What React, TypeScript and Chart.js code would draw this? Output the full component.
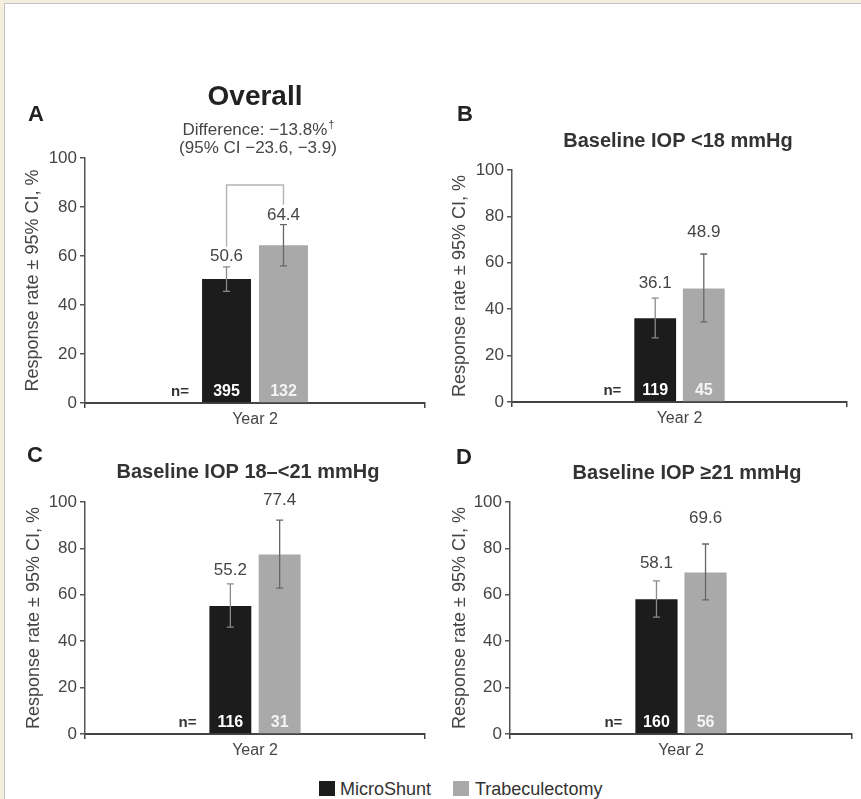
import React, { useEffect, useRef } from "react";
import { Chart, registerables } from "chart.js";

Chart.register(...registerables);

// ---------- data ----------
const categories = ["Year 2"];
const seriesNames = ["MicroShunt", "Trabeculectomy"];
const panelLetters = ["A", "B", "C", "D"];
const panelTitles = ["Overall", "Baseline IOP <18 mmHg", "Baseline IOP 18–<21 mmHg", "Baseline IOP ≥21 mmHg"];
const microShuntRate = [50.6, 36.1, 55.2, 58.1];
const microShuntLow = [45.6, 27.6, 46.1, 50.4];
const microShuntHigh = [55.6, 44.8, 64.7, 66.0];
const trabRate = [64.4, 48.9, 77.4, 69.6];
const trabLow = [56.0, 34.5, 62.9, 57.8];
const trabHigh = [72.8, 63.8, 92.2, 81.9];
const microShuntN = [395, 119, 116, 160];
const trabN = [132, 45, 31, 56];
const yTicks = [0, 20, 40, 60, 80, 100];
const bracketLevel = 89;
const differenceMain = "Difference: −13.8%";
const differenceMark = "†";
const differenceCI = "(95% CI −23.6, −3.9)";
const yAxisTitle = "Response rate ± 95% CI, %";
const nPrefix = "n=";

// ---------- layout / style ----------
const FONT = "'Liberation Sans', Arial, Helvetica, sans-serif";
const COLORS = ["#1c1c1c", "#a9a9a9"];
const ERR_COLORS = ["#8a8a8a", "#666666"];
const TEXT = "#454545";

type Layout = {
  left: number; top: number; width: number; height: number;
  area: { l: number; r: number; t: number; b: number };
  yTitleX: number; catPct: number; barPct: number; labelGap: number[];
  letter: [number, number]; title: [number, number]; titleSize: number;
};

const layouts: Layout[] = [
  { left: 0, top: 60, width: 430, height: 370, area: { l: 85, r: 425, t: 158, b: 403 }, yTitleX: 33, catPct: 0.335, barPct: 0.86, labelGap: [10, 9], letter: [36, 115], title: [255, 97], titleSize: 28 },
  { left: 430, top: 60, width: 431, height: 370, area: { l: 512, r: 847, t: 170, b: 402 }, yTitleX: 460, catPct: 0.29, barPct: 0.86, labelGap: [15, 22], letter: [465, 115], title: [678, 141], titleSize: 20 },
  { left: 0, top: 430, width: 430, height: 330, area: { l: 85, r: 425, t: 502, b: 734 }, yTitleX: 34, catPct: 0.29, barPct: 0.85, labelGap: [14, 20], letter: [35, 456], title: [248, 472], titleSize: 20 },
  { left: 430, top: 430, width: 431, height: 330, area: { l: 510, r: 852, t: 502, b: 734 }, yTitleX: 460, catPct: 0.287, barPct: 0.86, labelGap: [18, 26], letter: [464, 458], title: [687, 473], titleSize: 20 },
];

function Panel({ idx }: { idx: number }) {
  const ref = useRef<HTMLCanvasElement | null>(null);
  const L = layouts[idx];
  useEffect(() => {
    const canvas = ref.current;
    if (!canvas) return;
    const areaLeft = L.area.l - L.left;
    const areaRight = L.area.r - L.left;
    const areaTop = L.area.t - L.top;
    const areaBottom = L.area.b - L.top;
    const rates = [microShuntRate[idx], trabRate[idx]];
    const lows = [microShuntLow[idx], trabLow[idx]];
    const highs = [microShuntHigh[idx], trabHigh[idx]];
    const ns = [microShuntN[idx], trabN[idx]];
    const titleFontSize = 18;
    const titleLH = titleFontSize * 1.2;

    const overlay = {
      id: "overlay" + idx,
      afterDraw(chart: any) {
        const ctx: CanvasRenderingContext2D = chart.ctx;
        const ys = chart.scales.y;
        const bottom = chart.chartArea.bottom;
        const bars = [0, 1].map((d) => chart.getDatasetMeta(d).data[0] as any);
        ctx.save();
        const labelY: number[] = [];
        for (let d = 0; d < 2; d++) {
          const bar = bars[d];
          const x = bar.x;
          const yHi = ys.getPixelForValue(highs[d]);
          const yLo = ys.getPixelForValue(lows[d]);
          ctx.strokeStyle = ERR_COLORS[d];
          ctx.lineWidth = 1.3;
          ctx.beginPath();
          ctx.moveTo(x, yLo);
          ctx.lineTo(x, yHi);
          ctx.moveTo(x - 3.5, yHi);
          ctx.lineTo(x + 3.5, yHi);
          ctx.moveTo(x - 3.5, yLo);
          ctx.lineTo(x + 3.5, yLo);
          ctx.stroke();
          // value label
          ctx.fillStyle = TEXT;
          ctx.font = `17px ${FONT}`;
          ctx.textAlign = "center";
          ctx.textBaseline = "middle";
          const ly = yHi - L.labelGap[d];
          labelY.push(ly);
          ctx.fillText(rates[d].toFixed(1), x, ly);
          // n inside bar
          ctx.fillStyle = d === 0 ? "#ffffff" : "#f4f4f4";
          ctx.font = `bold 16px ${FONT}`;
          ctx.fillText(String(ns[d]), x, bottom - 11);
        }
        // n=
        ctx.fillStyle = "#333";
        ctx.font = `bold 15px ${FONT}`;
        ctx.textAlign = "right";
        ctx.fillText(nPrefix, bars[0].x - bars[0].width / 2 - 13, bottom - 11);

        // bracket (overall panel)
        if (idx === 0) {
          const yTop = ys.getPixelForValue(bracketLevel);
          ctx.strokeStyle = "#b4b4b4";
          ctx.lineWidth = 1.4;
          ctx.beginPath();
          ctx.moveTo(bars[0].x, labelY[0] - 10);
          ctx.lineTo(bars[0].x, yTop);
          ctx.lineTo(bars[1].x, yTop);
          ctx.lineTo(bars[1].x, labelY[1] - 11);
          ctx.stroke();
        }

        // panel letter
        ctx.fillStyle = "#222";
        ctx.textAlign = "center";
        ctx.textBaseline = "middle";
        ctx.font = `bold 22px ${FONT}`;
        ctx.fillText(panelLetters[idx], L.letter[0] - L.left, L.letter[1] - L.top);
        // title
        ctx.fillStyle = idx === 0 ? "#222" : "#333";
        ctx.font = `bold ${L.titleSize}px ${FONT}`;
        ctx.fillText(panelTitles[idx], L.title[0] - L.left, L.title[1] - L.top);

        if (idx === 0) {
          ctx.fillStyle = TEXT;
          ctx.font = `17px ${FONT}`;
          const w1 = ctx.measureText(differenceMain).width;
          ctx.font = `11px ${FONT}`;
          const w2 = ctx.measureText(differenceMark).width;
          const cx = 258 - L.left;
          const start = cx - (w1 + w2) / 2;
          ctx.textAlign = "left";
          ctx.font = `17px ${FONT}`;
          ctx.fillText(differenceMain, start, 130 - L.top);
          ctx.font = `11px ${FONT}`;
          ctx.fillText(differenceMark, start + w1 + 1, 125 - L.top);
          ctx.textAlign = "center";
          ctx.font = `17px ${FONT}`;
          ctx.fillText(differenceCI, cx, 148 - L.top);
        }
        ctx.restore();
      },
    };

    const chart = new Chart(canvas, {
      type: "bar",
      data: {
        labels: categories,
        datasets: [0, 1].map((d) => ({
          label: seriesNames[d],
          data: [d === 0 ? microShuntRate[idx] : trabRate[idx]],
          backgroundColor: COLORS[d],
          borderWidth: 0,
          categoryPercentage: L.catPct,
          barPercentage: L.barPct,
        })),
      },
      options: {
        responsive: false,
        animation: false,
        events: [],
        layout: { padding: { left: 0, top: areaTop, right: L.width - areaRight, bottom: 0 } },
        plugins: {
          legend: { display: false },
          tooltip: { enabled: false },
          title: { display: false },
        },
        scales: {
          x: {
            grid: { display: true, drawOnChartArea: false, drawTicks: true, tickLength: 5, color: "#444", lineWidth: 1.5 },
            border: { display: true, color: "#444", width: 2 },
            ticks: { color: TEXT, font: { family: FONT, size: 16 }, padding: 2 },
            afterFit: (s: any) => { s.height = L.height - areaBottom; },
          },
          y: {
            min: 0,
            max: 100,
            afterBuildTicks: (s: any) => { s.ticks = yTicks.map((v) => ({ value: v })); },
            grid: { display: true, drawOnChartArea: false, drawTicks: true, tickLength: 5, color: "#555", lineWidth: 1.5 },
            border: { display: true, color: "#555", width: 1.5 },
            ticks: { color: TEXT, font: { family: FONT, size: 17 }, padding: 3 },
            title: {
              display: true,
              text: yAxisTitle,
              color: TEXT,
              font: { family: FONT, size: titleFontSize },
              padding: { top: L.yTitleX - L.left - titleLH / 2, bottom: 0 },
            },
            afterFit: (s: any) => { s.width = areaLeft; },
          },
        },
      },
      plugins: [overlay],
    } as any);
    return () => chart.destroy();
  }, [idx]);
  return (
    <canvas
      ref={ref}
      width={L.width}
      height={L.height}
      style={{ position: "absolute", left: L.left, top: L.top, width: L.width, height: L.height }}
    />
  );
}

export default function App() {
  const legendText: React.CSSProperties = {
    position: "absolute", top: 779, fontFamily: FONT, fontSize: 18, lineHeight: "20px", color: "#333", whiteSpace: "nowrap",
  };
  return (
    <div style={{ position: "fixed", left: 0, top: 0, width: 861, height: 799, background: "#f4eedc", overflow: "hidden" }}>
      <div style={{ position: "absolute", left: 4, top: 3, right: 0, bottom: 0, background: "#fff", borderLeft: "1.5px solid #c4c4c4", borderTop: "1.5px solid #c4c4c4" }} />
      {[0, 1, 2, 3].map((i) => <Panel key={i} idx={i} />)}
      <div style={{ position: "absolute", left: 319, top: 781, width: 16, height: 15, background: COLORS[0] }} />
      <div style={{ ...legendText, left: 340 }}>{seriesNames[0]}</div>
      <div style={{ position: "absolute", left: 453, top: 781, width: 16, height: 15, background: COLORS[1] }} />
      <div style={{ ...legendText, left: 475 }}>{seriesNames[1]}</div>
    </div>
  );
}
